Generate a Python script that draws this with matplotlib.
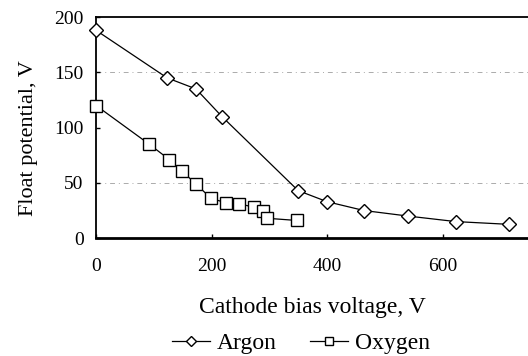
import matplotlib.pyplot as plt

# float potential vs cathode bias
argon_x = [0, 123, 173, 218, 350, 400, 464, 540, 623, 715]
argon_y = [188, 145, 135, 110, 43, 33, 25, 20, 15, 12.5]

oxygen_x = [0, 92, 127, 148, 173, 199, 225, 248, 274, 289, 296, 348]
oxygen_y = [120, 85, 71, 61, 49, 36, 32, 31, 28, 25, 18, 16]

plt.rcParams['font.family'] = ['Liberation Serif', 'DejaVu Serif']

fig = plt.figure(figsize=(5.28, 3.56), dpi=100)
ax = fig.add_axes([0.182, 0.331, 0.818, 0.621])

# faint broken guide lines
for yv in [50, 150]:
    ax.axhline(yv, color='#666666', linewidth=0.7, linestyle=(0, (5, 4, 1, 4)), alpha=0.55, zorder=0)

ax.plot(argon_x, argon_y, color='black', linewidth=0.9, marker='D', markersize=6.8,
        markerfacecolor='white', markeredgecolor='black', markeredgewidth=1.0,
        label='Argon', clip_on=False, zorder=3)
ax.plot(oxygen_x, oxygen_y, color='black', linewidth=0.9, marker='s', markersize=8.5,
        markerfacecolor='white', markeredgecolor='black', markeredgewidth=1.0,
        label='Oxygen', clip_on=False, zorder=3)

ax.set_xlim(0, 748)
ax.set_ylim(0, 200)
ax.set_xticks([0, 200, 400, 600])
ax.set_yticks([0, 50, 100, 150, 200])
ax.tick_params(direction='in', length=3, labelsize=14, width=1)
ax.tick_params(axis='x', pad=14)
ax.tick_params(axis='y', pad=9)

ax.spines['right'].set_visible(False)
ax.spines['left'].set_linewidth(1.3)
ax.spines['top'].set_linewidth(1.3)
ax.spines['bottom'].set_linewidth(2.0)

ax.set_xlabel('Cathode bias voltage, V', fontsize=17)
ax.xaxis.set_label_coords(0.5, -0.267)
ax.set_ylabel('Float potential, V', fontsize=16)
ax.yaxis.set_label_coords(-0.157, 0.455)
ax.yaxis.label.set_va('center')

h, l = ax.get_legend_handles_labels()
fig.legend(h, l, loc='center', bbox_to_anchor=(0.57, 0.035), ncol=2, frameon=False,
           fontsize=17, handlelength=1.6, columnspacing=1.4, handletextpad=0.3,
           markerscale=0.7, borderpad=0)

plt.savefig('out.png', dpi=100)
